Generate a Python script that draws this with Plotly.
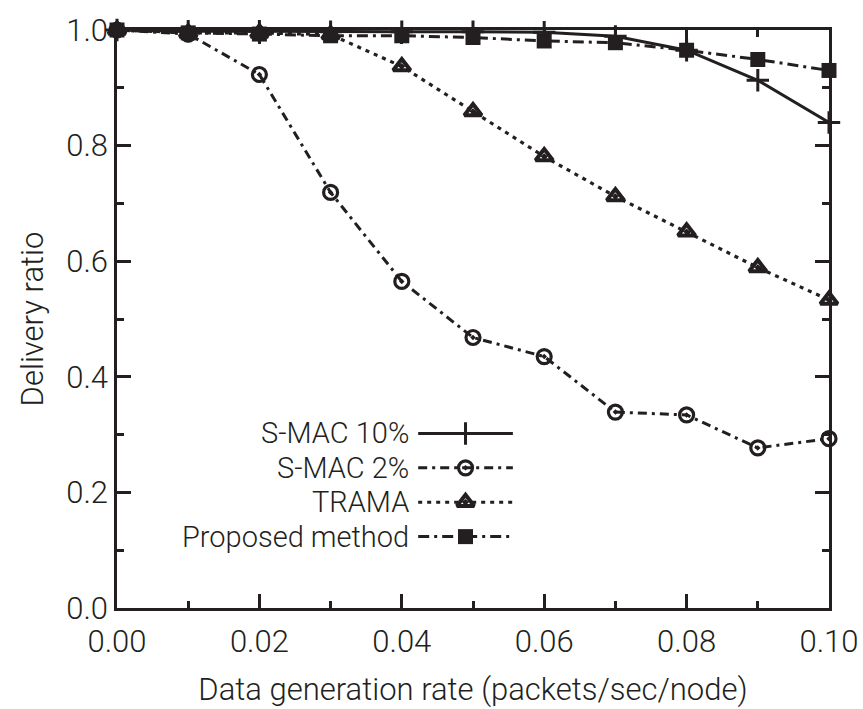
import plotly.graph_objects as go

# ---------------- data ----------------
rates = [0.00, 0.01, 0.02, 0.03, 0.04, 0.05, 0.06, 0.07, 0.08, 0.09, 0.10]
smac10 = [1.000, 0.998, 0.998, 0.997, 0.997, 0.997, 0.996, 0.989, 0.965, 0.913, 0.840]
smac2 = [1.000, 0.993, 0.923, 0.719, 0.565, 0.468, 0.435, 0.339, 0.334, 0.277, 0.293]
trama = [1.000, 0.995, 0.995, 0.992, 0.937, 0.859, 0.781, 0.712, 0.651, 0.589, 0.533]
proposed = [1.000, 0.995, 0.993, 0.990, 0.990, 0.987, 0.981, 0.978, 0.965, 0.949, 0.930]

series_names = ["S-MAC 10%", "S-MAC 2%", "TRAMA", "Proposed method"]
series_values = [smac10, smac2, trama, proposed]

x_ticks = [0.00, 0.02, 0.04, 0.06, 0.08, 0.10]
y_ticks = [0.0, 0.2, 0.4, 0.6, 0.8, 1.0]

x_title = "Data generation rate (packets/sec/node)"
y_title = "Delivery ratio"

# ---------------- styles ----------------
INK = "#231f20"
FONT = "Roboto, Liberation Sans, Arial, sans-serif"
FW = 300
styles = [
    dict(dash="solid", symbol="cross-thin", size=16, lw=3, mlw=3, color=INK),
    dict(dash="9px,5px,3px,5px", symbol="circle-open-dot", size=14, lw=3, mlw=3.2, color=INK),
    dict(dash="4px,5px", symbol="triangle-up-open-dot", size=15, lw=3.2, mlw=4, color=INK),
    dict(dash="11px,5px,3px,5px", symbol="square", size=15, lw=3, mlw=0, color=INK),
]

fig = go.Figure()

for name, vals, st in zip(series_names, series_values, styles):
    fig.add_trace(go.Scatter(
        x=rates, y=vals, name=name, mode="lines+markers",
        line=dict(color=st["color"], width=st["lw"], dash=st["dash"]),
        marker=dict(symbol=st["symbol"], size=st["size"], color=st["color"],
                    line=dict(color=st["color"], width=st["mlw"])),
        cliponaxis=False, showlegend=False,
    ))

# ---------------- custom legend (text left of key) ----------------
leg_text_right = 0.411   # fraction of plot width
leg_key_x0 = 0.423
leg_key_x1 = 0.556
leg_top = 0.302          # fraction of plot height
leg_step = 0.0595
for i, (name, st) in enumerate(zip(series_names, styles)):
    yr = leg_top - i * leg_step
    xm = (leg_key_x0 + leg_key_x1) / 2
    fig.add_trace(go.Scatter(
        x=[leg_key_x0, leg_key_x1], y=[yr, yr], mode="lines", xaxis="x2", yaxis="y2",
        line=dict(color=st["color"], width=st["lw"], dash=st["dash"]),
        showlegend=False, hoverinfo="skip", cliponaxis=False,
    ))
    fig.add_trace(go.Scatter(
        x=[xm], y=[yr], mode="markers", xaxis="x2", yaxis="y2",
        marker=dict(symbol=st["symbol"], size=st["size"], color=st["color"],
                    line=dict(color=st["color"], width=st["mlw"])),
        showlegend=False, hoverinfo="skip", cliponaxis=False,
    ))
    fig.add_annotation(x=leg_text_right, y=yr, xref="x2", yref="y2", text=name,
                       showarrow=False, xanchor="right", yanchor="middle",
                       borderpad=0,
                       font=dict(family=FONT, size=29, color=INK, weight=FW))

axis_common = dict(
    showline=True, linecolor=INK, linewidth=2.5, mirror="allticks",
    ticks="inside", tickcolor=INK, tickwidth=2.5, ticklen=14,
    showgrid=False, zeroline=False, automargin=False,
    tickfont=dict(family=FONT, size=31, color=INK, weight=FW),
)

fig.update_layout(
    width=863, height=709,
    margin=dict(l=117, r=34, t=30, b=101),
    paper_bgcolor="white", plot_bgcolor="white",
    xaxis=dict(range=[0, 0.10], tickvals=x_ticks, tickformat=".2f", ticklabelstandoff=4,
               minor=dict(dtick=0.01, ticks="inside", ticklen=7, tickwidth=2.5, tickcolor=INK),
               title=dict(text=x_title, font=dict(family=FONT, size=31, color=INK, weight=FW), standoff=20),
               **axis_common),
    yaxis=dict(range=[0, 1.0], tickvals=y_ticks, tickformat=".1f",
               minor=dict(dtick=0.1, ticks="inside", ticklen=7, tickwidth=2.5, tickcolor=INK),
               title=dict(text=y_title, font=dict(family=FONT, size=31, color=INK, weight=FW), standoff=14),
               **axis_common),
    xaxis2=dict(overlaying="x", range=[0, 1], visible=False, anchor="y2"),
    yaxis2=dict(overlaying="y", range=[0, 1], visible=False, anchor="x2"),
    showlegend=False,
)

fig.write_html("out.html")
